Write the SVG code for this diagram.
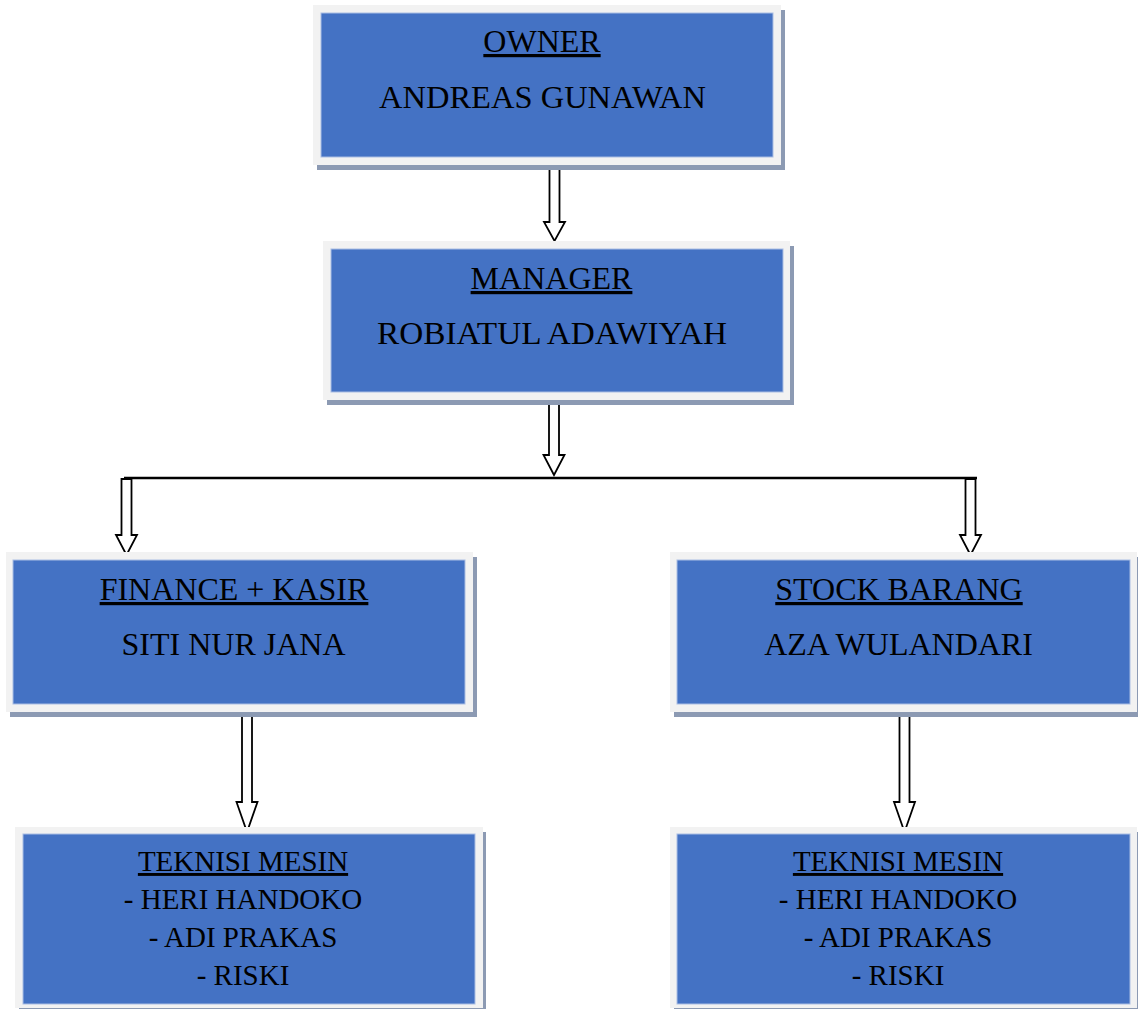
<svg xmlns="http://www.w3.org/2000/svg" width="1138" height="1009" viewBox="0 0 1138 1009">
<style>
.sh{fill:#8c9ab3}
.fr{fill:#f2f2f2}
.bx{fill:#4472c4;stroke:#a9bde3;stroke-width:1}
.t{font-family:"Liberation Serif","Times New Roman",serif;font-size:32px;fill:#000;text-anchor:middle}
.s{font-size:29px}
.u{text-decoration:underline}
.ar{fill:#fff;stroke:#000;stroke-width:1.8;stroke-linejoin:miter}
</style>
<rect width="1138" height="1009" fill="#fff"/>
<g id="connectors">
<path class="ar" d="M549.5,166 L559.5,166 L559.5,222 L565,222 L554.5,241 L544,222 L549.5,222 Z"/>
<path class="ar" d="M549,400 L559,400 L559,455 L564.5,455 L554,475 L543.5,455 L549,455 Z"/>
<line x1="124" y1="478" x2="977" y2="478" stroke="#000" stroke-width="2.5"/>
<path class="ar" d="M121.5,479 L131.5,479 L131.5,535 L137,535 L126.5,555 L116,535 L121.5,535 Z"/>
<path class="ar" d="M965.5,479 L975.5,479 L975.5,535 L981,535 L970.5,555 L960,535 L965.5,535 Z"/>
<path class="ar" d="M242,716 L252,716 L252,802 L257.5,802 L247,832 L236.5,802 L242,802 Z"/>
<path class="ar" d="M899.5,716 L909.5,716 L909.5,802 L915,802 L904.5,832 L894,802 L899.5,802 Z"/>
</g>
<g id="owner">
<rect class="sh" x="317" y="10" width="468" height="160"/>
<rect class="fr" x="313" y="5" width="468" height="160"/>
<rect class="bx" x="321" y="13" width="452" height="144"/>
<text class="t u" x="542" y="52">OWNER</text>
<text class="t" x="542.5" y="108" textLength="327" lengthAdjust="spacingAndGlyphs">ANDREAS GUNAWAN</text>
</g>
<g id="manager">
<rect class="sh" x="327" y="246" width="467" height="159"/>
<rect class="fr" x="323" y="241" width="467" height="159"/>
<rect class="bx" x="331" y="249" width="452" height="143"/>
<text class="t u" x="551.5" y="289">MANAGER</text>
<text class="t" x="552" y="344" textLength="350" lengthAdjust="spacingAndGlyphs">ROBIATUL ADAWIYAH</text>
</g>
<g id="finance">
<rect class="sh" x="10" y="557" width="467" height="160"/>
<rect class="fr" x="6" y="552" width="467" height="160"/>
<rect class="bx" x="13" y="560" width="452" height="144"/>
<text class="t u" x="234" y="600">FINANCE + KASIR</text>
<text class="t" x="233.5" y="655">SITI NUR JANA</text>
</g>
<g id="stock">
<rect class="sh" x="674" y="557" width="467" height="160"/>
<rect class="fr" x="670" y="552" width="467" height="160"/>
<rect class="bx" x="677" y="560" width="453" height="144"/>
<text class="t u" x="899" y="600">STOCK BARANG</text>
<text class="t" x="898.5" y="655">AZA WULANDARI</text>
</g>
<g id="teknisi-left">
<rect class="sh" x="19" y="832" width="467" height="181"/>
<rect class="fr" x="15" y="827" width="468" height="181"/>
<rect class="bx" x="23" y="834" width="452" height="170"/>
<text class="t s u" x="243" y="871">TEKNISI MESIN</text>
<text class="t s" x="243" y="909">- HERI HANDOKO</text>
<text class="t s" x="243" y="947">- ADI PRAKAS</text>
<text class="t s" x="243" y="985">- RISKI</text>
</g>
<g id="teknisi-right">
<rect class="sh" x="674" y="832" width="467" height="181"/>
<rect class="fr" x="670" y="827" width="467" height="181"/>
<rect class="bx" x="677" y="834" width="453" height="170"/>
<text class="t s u" x="898" y="871">TEKNISI MESIN</text>
<text class="t s" x="898" y="909">- HERI HANDOKO</text>
<text class="t s" x="898" y="947">- ADI PRAKAS</text>
<text class="t s" x="898" y="985">- RISKI</text>
</g>
</svg>
